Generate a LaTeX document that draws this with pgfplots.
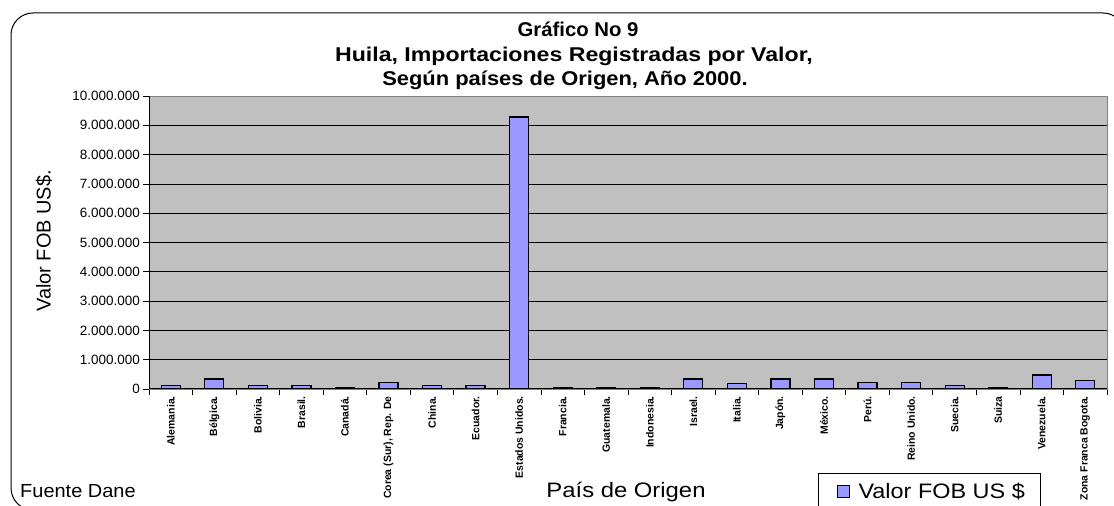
\documentclass[border=0pt]{standalone}
\usepackage{graphicx}
\usepackage{pgfplots}
\pgfplotsset{compat=1.18}
\usepackage{fontspec}
\setmainfont{Liberation Sans}
\definecolor{barcol}{RGB}{153,153,255}
\definecolor{plotbg}{RGB}{192,192,192}
\definecolor{frameg}{RGB}{128,128,128}
\begin{document}
\begin{tikzpicture}[x=1bp,y=1bp]
\useasboundingbox (0,0) rectangle (1114,506);
\clip (0,0) rectangle (1114,506);
\draw[line width=1bp, rounded corners=22bp] (11,493) rectangle (1125,-4);
\begin{axis}[
 at={(149bp,117bp)}, anchor=south west,
 scale only axis, width=958bp, height=293bp,
 xmin=-0.5, xmax=21.5, ymin=0, ymax=10000000,
 scaled y ticks=false,
 axis background/.style={fill=plotbg},
 axis line style={frameg, line width=0.75bp},
 tick pos=left,
 ytick={0,1000000,2000000,3000000,4000000,5000000,6000000,7000000,8000000,9000000,10000000},
 yticklabels={0,1.000.000,2.000.000,3.000.000,4.000.000,5.000.000,6.000.000,7.000.000,8.000.000,9.000.000,10.000.000},
 ymajorgrids, grid style={black, line width=0.6bp},
 xtick={0,1,...,21},
 xticklabels={Alemania.,Bélgica.,Bolivia.,Brasil.,Canadá.,{Corea (Sur), Rep. De},China.,Ecuador.,Estados Unidos.,Francia.,Guatemala.,Indonesia.,Israel.,Italia.,Japón.,México.,Perú.,Reino Unido.,Suecia.,Suiza,Venezuela.,Zona Franca Bogota.},
 major x tick style={draw=none},
 minor xtick={-0.5,0.5,...,21.5},
 tick align=outside,
 major tick length=6bp, minor tick length=6bp,
 tick style={black, line width=0.75bp},
 yticklabel style={font=\fontsize{13.5}{13.5}\selectfont, inner sep=3bp},
 xticklabel style={rotate=90, anchor=east, font=\bfseries\fontsize{10.5}{10.5}\selectfont, inner sep=1bp},
 legend style={at={(axis description cs:0.6983,-0.2867)}, anchor=north west, draw=black, line width=0.75bp, inner xsep=0bp, inner ysep=8bp, font=\fontsize{21}{21}\selectfont},
 legend image code/.code={\path (0bp,0bp) (37bp,0bp); \draw[fill=barcol,draw=black,line width=1bp] (19bp,-6bp) rectangle (31bp,6bp);},
]
\addplot[ybar, bar width=19bp, fill=barcol, draw=black, line width=1.2bp] coordinates {
(0,115000) (1,340000) (2,115000) (3,115000) (4,50000) (5,230000) (6,115000) (7,115000)
(8,9280000) (9,40000) (10,40000) (11,40000) (12,340000) (13,190000) (14,340000) (15,340000)
(16,230000) (17,230000) (18,115000) (19,40000) (20,475000) (21,295000)
};
\addlegendentry{\scalebox{1.12}[1]{Valor FOB US \$}\hspace*{14bp}}
\draw[black, line width=1bp] (axis cs:-0.5,10000000) -- (axis cs:-0.5,0) -- (axis cs:21.5,0);
\end{axis}
\node[anchor=base, font=\bfseries\fontsize{20}{20}\selectfont, inner sep=0] at (578,469) {\scalebox{1.02}[1]{Gráfico No 9}};
\node[anchor=base, font=\bfseries\fontsize{20}{20}\selectfont, inner sep=0] at (574,444) {\scalebox{1.16}[1]{Huila, Importaciones Registradas por Valor,}};
\node[anchor=base, font=\bfseries\fontsize{20}{20}\selectfont, inner sep=0] at (565,420) {\scalebox{1.10}[1]{Según países de Origen, Año 2000.}};
\node[rotate=90, font=\fontsize{20}{20}\selectfont] at (44,265) {Valor FOB US\$.};
\node[anchor=base west, font=\fontsize{19}{19}\selectfont, inner sep=0] at (20,8) {\scalebox{1.055}[1]{Fuente Dane}};
\node[anchor=base, font=\fontsize{21}{21}\selectfont, inner sep=0] at (626,8) {\scalebox{1.14}[1]{País de Origen}};
\end{tikzpicture}
\end{document}
